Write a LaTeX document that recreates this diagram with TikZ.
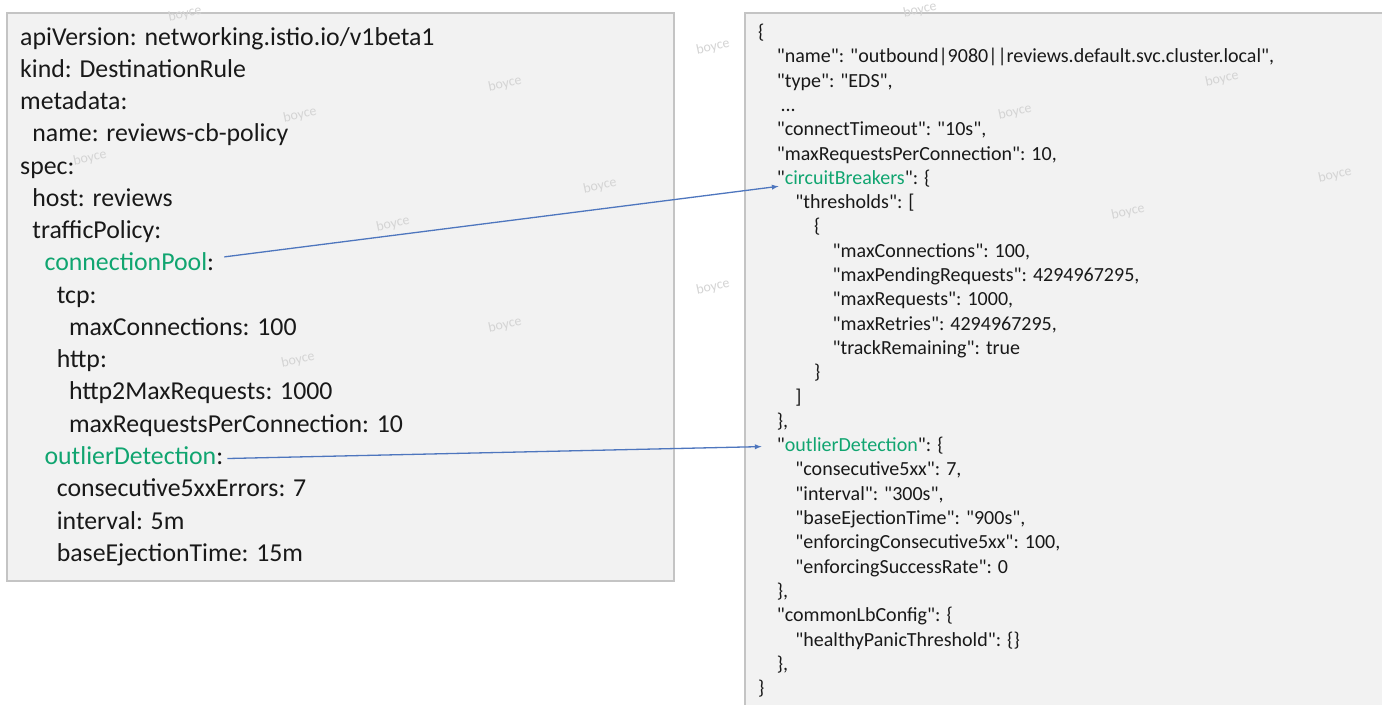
\documentclass[tikz,border=0pt]{standalone}
\usepackage{xcolor}
\usepackage{fontspec}
\newfontfamily\calibri{Carlito}
\usepackage{tikz}
\usetikzlibrary{arrows}
\usetikzlibrary{calc}
\usetikzlibrary{positioning}

\definecolor{boxfill}{RGB}{242,242,242}
\definecolor{boxline}{RGB}{196,196,196}
\definecolor{keygreen}{RGB}{16,165,112}
\definecolor{linkblue}{RGB}{78,118,190}
\newcommand{\hl}[1]{\textcolor{keygreen}{#1}}

\begin{document}
\begin{tikzpicture}[x=1pt, y=-1pt,
    yaml/.style={anchor=base west, inner sep=0pt, text=black!90,
      font=\calibri\fontsize{25.8}{30}\selectfont},
    json/.style={anchor=base west, inner sep=0pt, text=black!90,
      font=\calibri\fontsize{20}{23}\selectfont},
    wmark/.style={text=black!17, rotate=12,
      font=\calibri\fontsize{14}{16}\selectfont},
    link/.style={->, >=latex, draw=linkblue, line width=1.3pt}]

    \useasboundingbox (0, 0) rectangle (1382, 705);
    \fill [white] (0, 0) rectangle (1382, 705);

    % the two panels
    \draw [boxline, fill=boxfill, line width=1.6pt] (7, 13) rectangle (674, 581);
    \fill [boxfill] (745, 13) rectangle (1382, 705);
    \draw [boxline, line width=1.6pt] (1382, 13) -- (745, 13) -- (745, 705);

    % watermark
    \foreach \x/\y [count=\k] in {185/14, 90/158, 300/115, 505/84, 713/47,
      920/10, 393/224, 600/186, 1015/112, 1222/79,
      298/360, 505/325, 713/287, 1128/212, 1335/175}
      \node [wmark] (wm\k) at (\x, \y) {boyce};

    % destination rule
    \foreach \lvl/\txt [count=\i] in {
      0/{apiVersion: networking.istio.io/v1beta1},
      0/{kind: DestinationRule},
      0/{metadata:},
      1/{name: reviews-cb-policy},
      0/{spec:},
      1/{host: reviews},
      1/{trafficPolicy:},
      2/{\hl{connectionPool}:},
      3/{tcp:},
      4/{maxConnections: 100},
      3/{http:},
      4/{http2MaxRequests: 1000},
      4/{maxRequestsPerConnection: 10},
      2/{\hl{outlierDetection}:},
      3/{consecutive5xxErrors: 7},
      3/{interval: 5m},
      3/{baseEjectionTime: 15m}}
      \node [yaml] (y\i) at (20 + 12.2*\lvl, 45 + 32.27*\i - 32.27) {\txt};

    % envoy cluster config
    \foreach \lvl/\txt [count=\i] in {
      0/{\{},
      1/{"name": "outbound|9080||reviews.default.svc.cluster.local",},
      1/{"type": "EDS",},
      1.2/{...},
      1/{"connectTimeout": "10s",},
      1/{"maxRequestsPerConnection": 10,},
      1/{"\hl{circuitBreakers}": \{},
      2/{"thresholds": [},
      3/{\{},
      4/{"maxConnections": 100,},
      4/{"maxPendingRequests": 4294967295,},
      4/{"maxRequests": 1000,},
      4/{"maxRetries": 4294967295,},
      4/{"trackRemaining": true},
      3/{\}},
      2/{]},
      1/{\},},
      1/{"\hl{outlierDetection}": \{},
      2/{"consecutive5xx": 7,},
      2/{"interval": "300s",},
      2/{"baseEjectionTime": "900s",},
      2/{"enforcingConsecutive5xx": 100,},
      2/{"enforcingSuccessRate": 0},
      1/{\},},
      1/{"commonLbConfig": \{},
      2/{"healthyPanicThreshold": \{\}},
      1/{\},},
      0/{\}}}
      \node [json] (r\i) at (758 + 18.6*\lvl, 38.5 + 24.3*\i - 24.3) {\txt};

    \draw [link] ([xshift=10pt, yshift=14pt]y8.base east) -- ([xshift=2pt, yshift=-2pt]r7.base west);
    \draw [link] ([xshift=4pt, yshift=6pt]y14.base east) -- ([xshift=-15pt, yshift=5pt]r18.base west);

\end{tikzpicture}
\end{document}
